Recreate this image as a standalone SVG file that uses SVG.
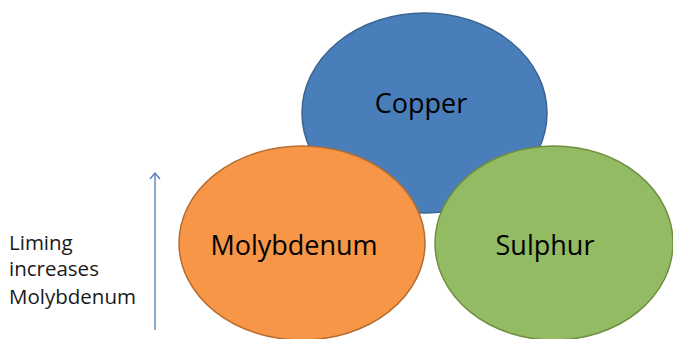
<svg xmlns="http://www.w3.org/2000/svg" width="673" height="339" viewBox="0 0 673 339">
<defs>
<style>
.lbl{font-family:"Open Sans","Liberation Sans",sans-serif;fill:#000;text-anchor:middle}
.big{font-size:27px}
.side{font-family:"Open Sans","Liberation Sans",sans-serif;font-size:20.5px;fill:#1a1a1a}
</style>
<marker id="ah" viewBox="0 0 12 12" refX="10" refY="6" markerWidth="12" markerHeight="12" markerUnits="userSpaceOnUse" orient="auto">
<path d="M4,1 L10,6 L4,11" fill="none" stroke="#4A7EBB" stroke-width="1.3"/>
</marker>
</defs>
<rect width="673" height="339" fill="#fff"/>
<g id="copper">
<ellipse cx="424.5" cy="113" rx="122.5" ry="100" fill="#4A7EBB" stroke="#3A6491" stroke-width="1.5"/>
<text class="lbl big" x="421" y="113">Copper</text>
</g>
<g id="molybdenum">
<ellipse cx="302" cy="243" rx="123" ry="97" fill="#F79646" stroke="#B66D31" stroke-width="1.5"/>
<text class="lbl big" x="294" y="255">Molybdenum</text>
</g>
<g id="sulphur">
<ellipse cx="554" cy="243" rx="119" ry="97" fill="#93BB64" stroke="#6F8E3F" stroke-width="1.5"/>
<text class="lbl big" x="545" y="255">Sulphur</text>
</g>
<g id="connectors">
<line x1="155" y1="330" x2="155" y2="173" stroke="#4A7EBB" stroke-width="1.3" marker-end="url(#ah)"/>
</g>
<g id="note">
<text class="side" x="9" y="250">Liming</text>
<text class="side" x="9" y="276">increases</text>
<text class="side" x="9" y="304">Molybdenum</text>
</g>
</svg>
